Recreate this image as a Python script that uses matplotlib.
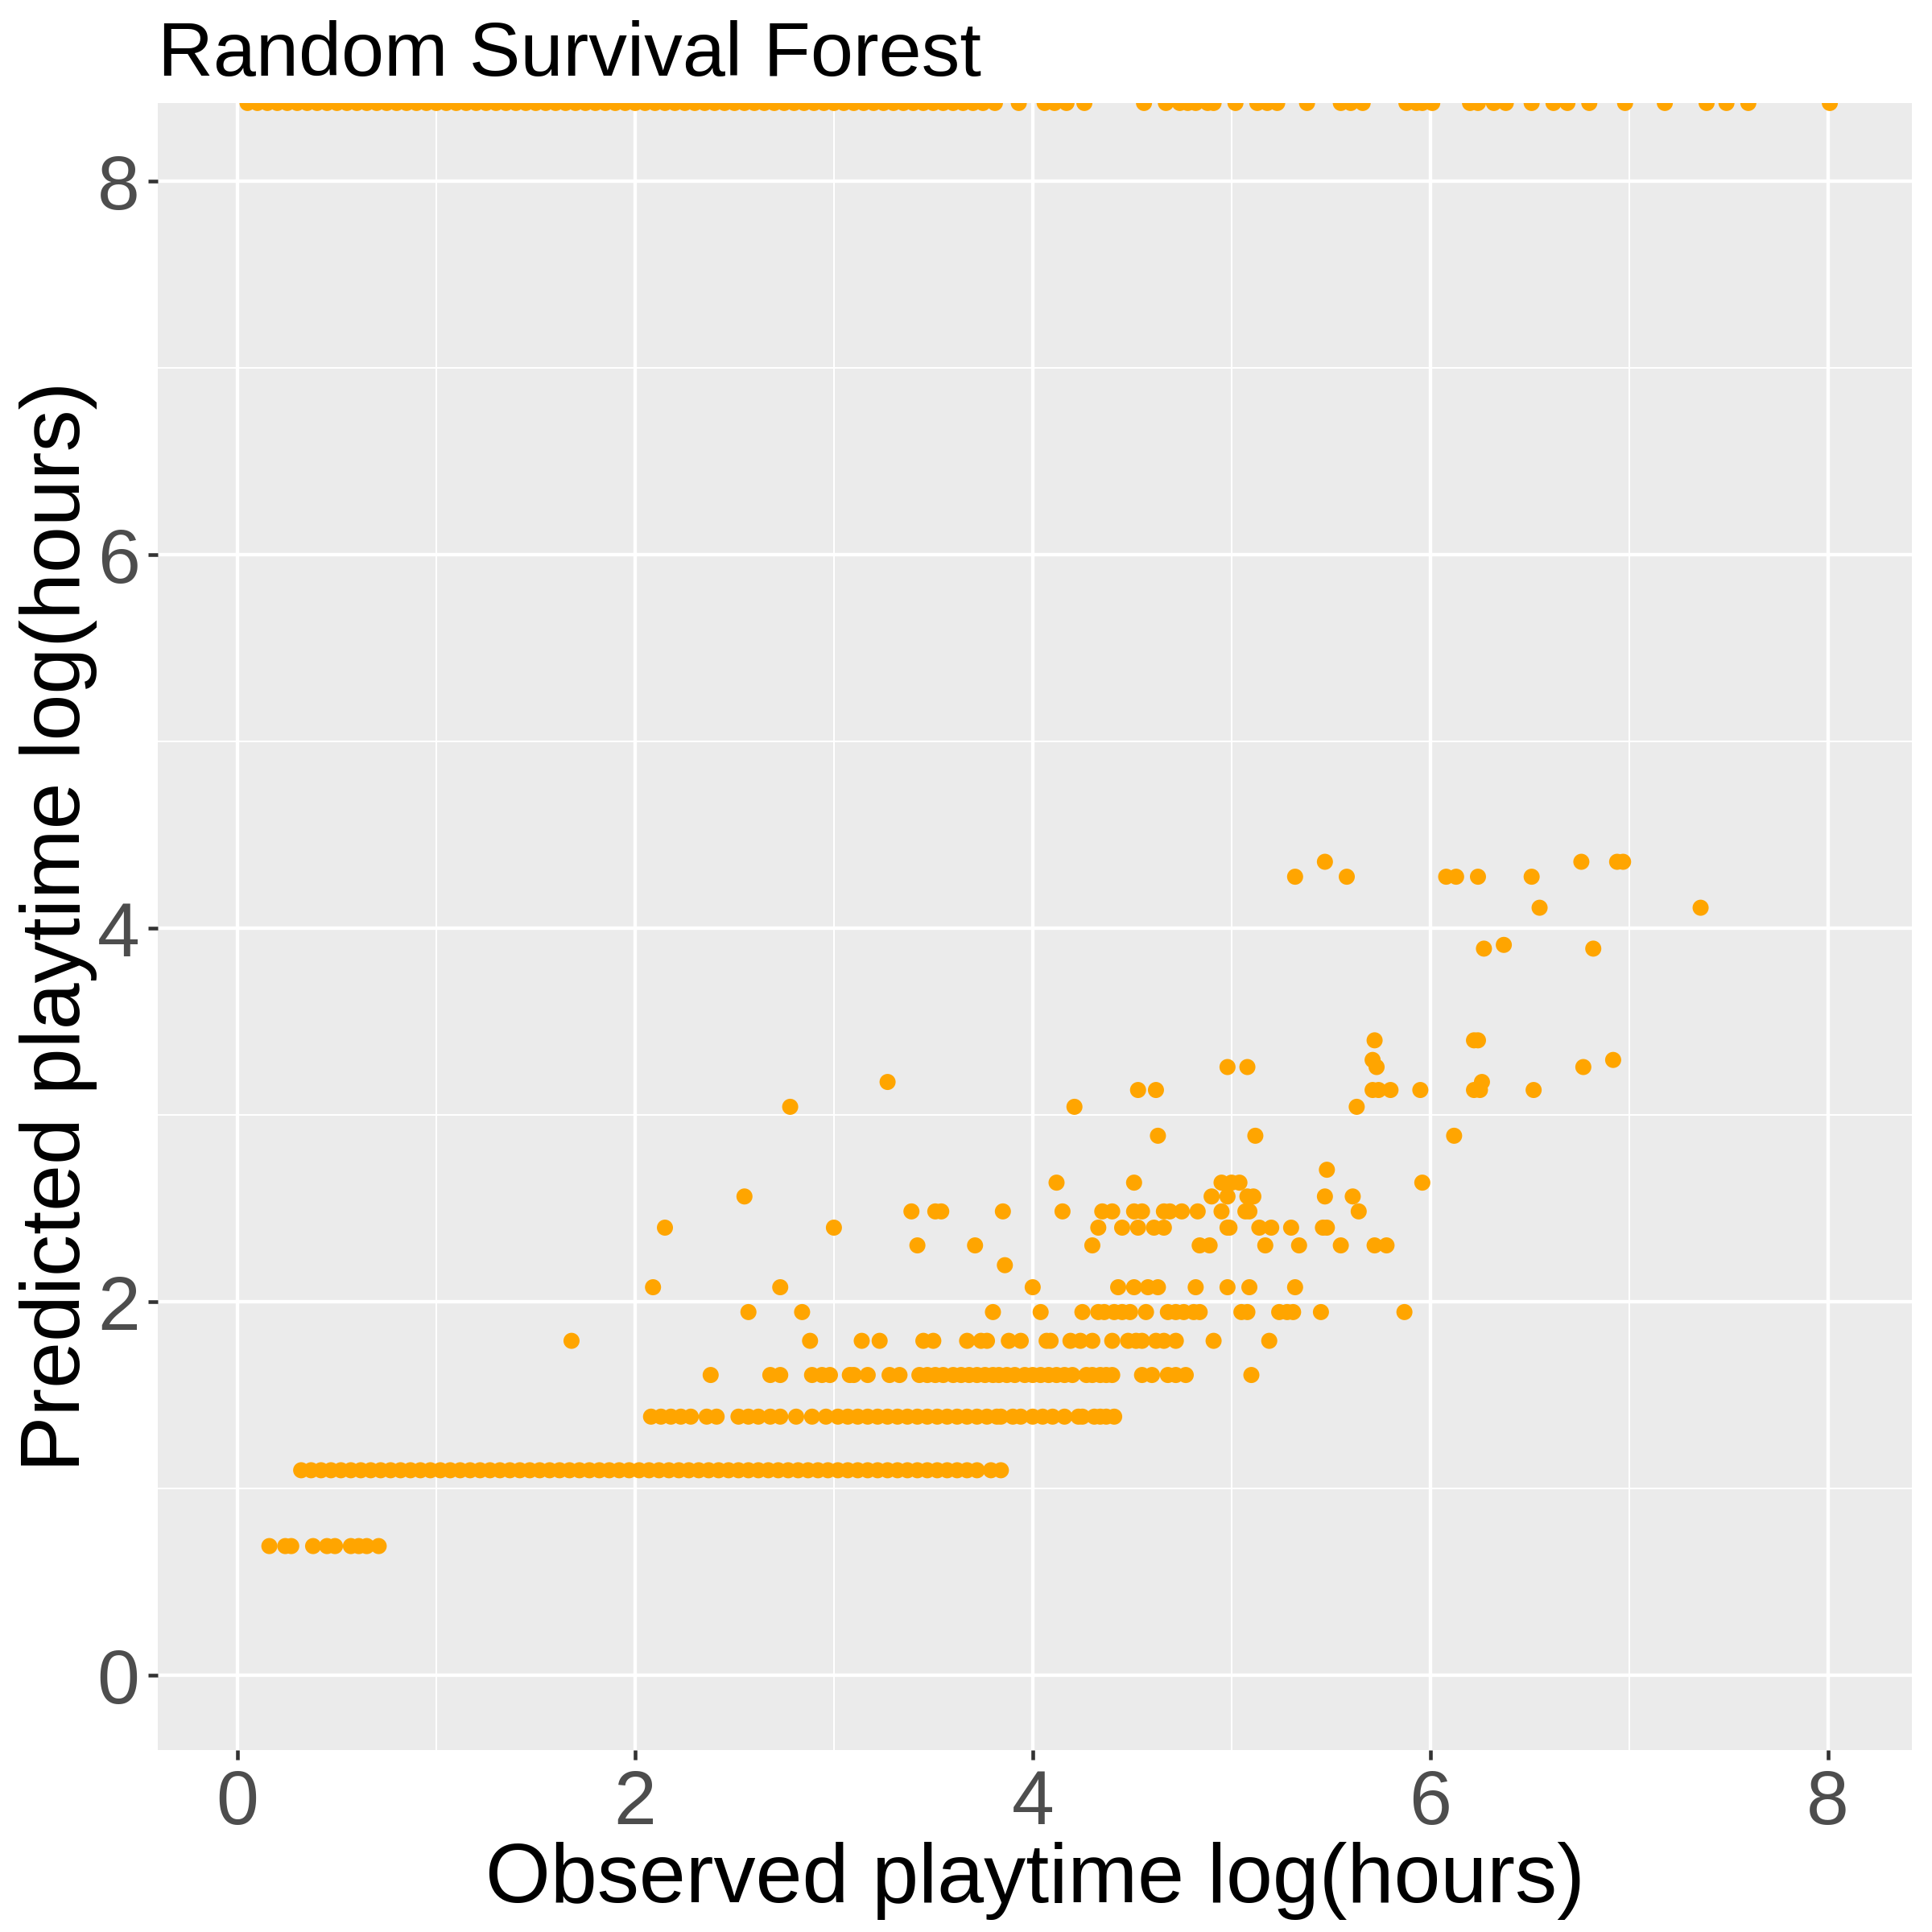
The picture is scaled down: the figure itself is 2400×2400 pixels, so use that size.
import numpy as np
import matplotlib
matplotlib.use('Agg')
import matplotlib.pyplot as plt

plt.rcParams['font.family'] = ['Liberation Sans', 'DejaVu Sans']

# predicted value rows (log hours) and the observed values sitting on each row
y_top = 8.42  # predictions beyond the plot range, drawn on the top edge
x_top = [0.05, 0.10, 0.15, 0.20, 0.25, 0.30, 0.35, 0.40, 0.45, 0.50, 0.55, 0.60, 0.65, 0.70,
         0.75, 0.80, 0.85, 0.90, 0.95, 1.00, 1.05, 1.10, 1.15, 1.20, 1.25, 1.30, 1.35, 1.40,
         1.45, 1.50, 1.55, 1.60, 1.65, 1.70, 1.75, 1.80, 1.85, 1.90, 1.95, 2.00, 2.05, 2.10,
         2.15, 2.20, 2.25, 2.30, 2.35, 2.40, 2.45, 2.50, 2.55, 2.60, 2.65, 2.70, 2.75, 2.80,
         2.85, 2.90, 2.95, 3.00, 3.05, 3.10, 3.15, 3.20, 3.25, 3.30, 3.35, 3.40, 3.45, 3.50,
         3.55, 3.60, 3.65, 3.70, 3.75, 3.81, 3.93, 4.06, 4.11, 4.17, 4.26, 4.56, 4.67, 4.74,
         4.78, 4.82, 4.88, 4.91, 5.02, 5.13, 5.18, 5.23, 5.38, 5.55, 5.60, 5.66, 5.88, 5.93,
         5.96, 6.01, 6.20, 6.24, 6.32, 6.38, 6.51, 6.62, 6.69, 6.80, 6.98, 7.18, 7.39, 7.49,
         7.60, 8.01]

x_y069 = [0.16, 0.24, 0.27, 0.38, 0.45, 0.49, 0.57, 0.61, 0.65, 0.71]

x_y110 = [0.32, 0.37, 0.42, 0.47, 0.52, 0.57, 0.62, 0.67, 0.72, 0.77, 0.82, 0.87, 0.92, 0.97,
          1.02, 1.07, 1.12, 1.17, 1.22, 1.27, 1.32, 1.37, 1.42, 1.47, 1.52, 1.57, 1.62, 1.67,
          1.72, 1.77, 1.82, 1.87, 1.92, 1.97, 2.02, 2.07, 2.12, 2.17, 2.22, 2.27, 2.32, 2.37,
          2.42, 2.47, 2.52, 2.57, 2.62, 2.67, 2.72, 2.77, 2.82, 2.87, 2.92, 2.97, 3.02, 3.07,
          3.12, 3.17, 3.22, 3.27, 3.32, 3.37, 3.42, 3.47, 3.52, 3.57, 3.62, 3.67, 3.72, 3.79, 3.84]

x_y139 = [2.08, 2.13, 2.18, 2.23, 2.28, 2.36, 2.41, 2.52, 2.57, 2.62, 2.68, 2.73, 2.81, 2.89,
          2.96, 3.02, 3.07, 3.12, 3.17, 3.22, 3.27, 3.32, 3.37, 3.42, 3.47, 3.52, 3.57, 3.62,
          3.67, 3.72, 3.77, 3.82, 3.84, 3.90, 3.94, 4.00, 4.05, 4.10, 4.16, 4.23, 4.25, 4.31,
          4.34, 4.37, 4.41]

x_y161 = [2.38, 2.68, 2.73, 2.89, 2.94, 2.98, 3.08, 3.10, 3.17, 3.28, 3.33, 3.43, 3.47, 3.51,
          3.55, 3.60, 3.64, 3.68, 3.72, 3.76, 3.80, 3.83, 3.87, 3.91, 3.96, 4.00, 4.04, 4.08,
          4.12, 4.16, 4.20, 4.27, 4.30, 4.34, 4.37, 4.40, 4.55, 4.60, 4.68, 4.72, 4.77, 5.10]

x_y179 = [1.68, 2.88, 3.14, 3.23, 3.45, 3.50, 3.67, 3.74, 3.77, 3.88, 3.94, 4.07, 4.09, 4.19,
          4.24, 4.30, 4.40, 4.48, 4.52, 4.55, 4.62, 4.66, 4.72, 4.91, 5.19]

x_y195 = [2.57, 2.84, 3.80, 4.04, 4.25, 4.33, 4.36, 4.41, 4.45, 4.49, 4.57, 4.68, 4.72, 4.76,
          4.81, 4.84, 5.05, 5.08, 5.24, 5.28, 5.31, 5.45, 5.87]

x_y208 = [2.09, 2.73, 4.00, 4.43, 4.51, 4.58, 4.63, 4.82, 4.98, 5.09, 5.32]
x_y220 = [3.86]
x_y230 = [3.42, 3.71, 4.30, 4.84, 4.89, 5.17, 5.34, 5.55, 5.72, 5.78]
x_y240 = [2.15, 3.00, 4.33, 4.45, 4.53, 4.61, 4.66, 4.98, 4.99, 5.14, 5.20, 5.30, 5.46, 5.48]
x_y248 = [3.39, 3.51, 3.54, 3.85, 4.15, 4.35, 4.40, 4.51, 4.55, 4.66, 4.69, 4.75, 4.83, 4.95,
          5.07, 5.09, 5.64]
x_y256 = [2.55, 4.90, 4.98, 5.08, 5.11, 5.47, 5.61]
x_y264 = [4.12, 4.51, 4.95, 5.00, 5.04, 5.96]
x_y271 = [5.48]
x_y289 = [4.63, 5.12, 6.12]
x_y304 = [2.78, 4.21, 5.63]
x_y314 = [4.53, 4.62, 5.71, 5.74, 5.80, 5.95, 6.22, 6.25, 6.52]
x_y318 = [3.27, 6.26]
x_y326 = [4.98, 5.08, 5.73, 6.77]
x_y330 = [5.71, 6.92]
x_y340 = [5.72, 6.22, 6.24]
x_y389 = [6.27, 6.82]
x_y391 = [6.37]
x_y411 = [6.55, 7.36]
x_y428 = [5.32, 5.58, 6.08, 6.13, 6.24, 6.51]
x_y436 = [5.47, 6.76, 6.94, 6.97]

rows = [
    (y_top, x_top), (0.693, x_y069), (1.099, x_y110), (1.386, x_y139), (1.609, x_y161),
    (1.792, x_y179), (1.946, x_y195), (2.079, x_y208), (2.197, x_y220), (2.303, x_y230),
    (2.398, x_y240), (2.485, x_y248), (2.565, x_y256), (2.639, x_y264), (2.708, x_y271),
    (2.890, x_y289), (3.045, x_y304), (3.135, x_y314), (3.178, x_y318), (3.258, x_y326),
    (3.296, x_y330), (3.401, x_y340), (3.892, x_y389), (3.912, x_y391), (4.111, x_y411),
    (4.277, x_y428), (4.357, x_y436),
]

obs = np.concatenate([np.array(xs, dtype=float) for _, xs in rows])
pred = np.concatenate([np.full(len(xs), yv) for yv, xs in rows])

fig = plt.figure(figsize=(8, 8), dpi=300)
ax = fig.add_axes([0.0817, 0.094, 0.9077, 0.8528])
ax.set_facecolor('#EBEBEB')

ax.scatter(obs, pred, s=23, color='#FFA500', edgecolors='none', zorder=3)

ax.set_xlim(-0.401, 8.421)
ax.set_ylim(-0.401, 8.421)
ticks = [0, 2, 4, 6, 8]
ax.set_xticks(ticks)
ax.set_yticks(ticks)
ax.set_xticks([1, 3, 5, 7], minor=True)
ax.set_yticks([1, 3, 5, 7], minor=True)
ax.grid(which='major', color='white', linewidth=1.05, zorder=1)
ax.grid(which='minor', color='white', linewidth=0.5, zorder=1)
ax.set_axisbelow(True)
for s in ax.spines.values():
    s.set_visible(False)

ax.tick_params(which='major', length=2.9, width=1.1, color='#333333',
               labelsize=22.8, labelcolor='#4D4D4D', pad=2.5)
ax.tick_params(which='minor', length=0)

fig.text(0.5356, 0.0154, 'Observed playtime log(hours)', fontsize=25,
         ha='center', va='baseline', color='black')
fig.text(0.0413, 0.5204, 'Predicted playtime log(hours)', fontsize=25,
         rotation=90, ha='center', va='baseline', color='black', rotation_mode='anchor')
fig.text(0.0817, 0.9608, 'Random Survival Forest', fontsize=22.9,
         ha='left', va='baseline', color='black')

fig.savefig('out.png', dpi=300)
